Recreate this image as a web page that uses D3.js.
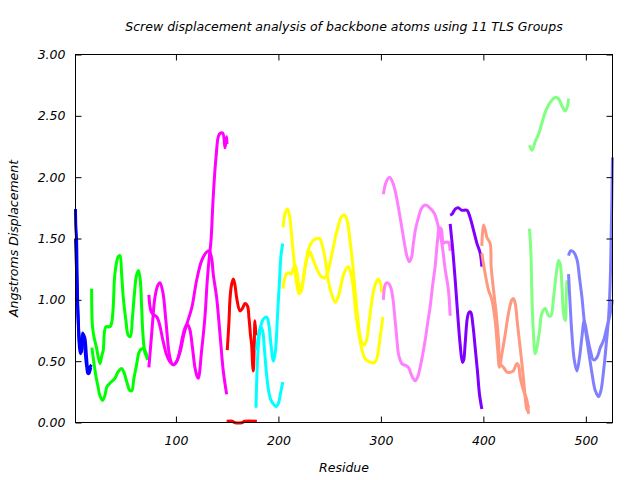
<!DOCTYPE html>
<html>
<head>
<meta charset="utf-8">
<script src="https://d3js.org/d3.v7.min.js"></script>
<style>
  html, body { margin: 0; padding: 0; background: #fff; }
  svg { display: block; }
  text { font-family: "DejaVu Sans", sans-serif; font-style: italic; font-size: 12.5px; fill: #000; }
</style>
</head>
<body>
<svg id="chart" width="640" height="480"></svg>
<script>
// ---------- data (residue, screw displacement in Å) ----------
const chartTitle = "Screw displacement analysis of backbone atoms using 11 TLS Groups";
const xLabel = "Residue";
const yLabel = "Angstroms Displacement";
const xTicks = [100, 200, 300, 400, 500];
const yTicks = [0, 0.5, 1.0, 1.5, 2.0, 2.5, 3.0];
const xDomain = [2, 526];
const yDomain = [0, 3];

// Group 1 (blue)
const g1a = [[2,1.74],[2.3,1.6],[3,1.5],[3.6,1.19],[4.6,0.86],[6.4,0.61],[7.9,0.57],[9.5,0.72],[11.1,0.69],[12.8,0.53],[14.4,0.41],[16.0,0.45],[17.7,0.47]];
const g1b = [[2,1.5],[3,1.25],[4,0.95],[5,0.75],[6,0.6],[7,0.56],[8,0.65],[9,0.73],[10,0.7],[11,0.62],[12,0.52],[13,0.45],[14,0.4],[15,0.4],[16,0.42],[17,0.45]];
// Group 2 (green)
const g2a = [[17.7,1.09],[18.6,0.78],[20.5,0.68],[22.5,0.61],[25.8,0.48],[27.5,0.54],[29.1,0.59],[31.6,0.78],[35.5,0.78],[37.2,0.81],[38.8,0.94],[40.4,1.21],[43.6,1.35],[45.3,1.36],[47,1.21],[48.6,1.02],[51.2,0.83],[53.5,0.71],[55.5,0.70],[57.5,0.85],[59.5,1.05],[61.5,1.20],[63.5,1.24],[65.3,1.15],[66.5,0.95],[67.8,0.72],[69.7,0.57],[71.2,0.54],[72.7,0.51]];
const g2b = [[18.0,0.61],[19.9,0.49],[21.9,0.38],[23.8,0.30],[25.8,0.22],[28.4,0.18],[30.7,0.22],[32.6,0.29],[35.5,0.32],[40.4,0.36],[43.4,0.41],[47.0,0.44],[49.2,0.41],[52.1,0.33],[55.1,0.26],[57.0,0.26],[59.0,0.36],[61.6,0.47],[63.9,0.57],[66.5,0.60],[68.8,0.60],[70.7,0.57],[72.2,0.51]];
// Group 3 (magenta)
const g3a = [[73.6,1.04],[75.6,0.91],[78,0.88],[81.4,0.86],[84,0.80],[87.3,0.67],[91,0.55],[94.5,0.49],[98,0.47],[101,0.50],[103.9,0.59],[106.5,0.70],[108.8,0.77],[111,0.80],[113.5,0.76],[116,0.62],[118.5,0.45],[120.5,0.38],[121.8,0.36],[125.1,0.59],[128.3,0.86],[130.6,1.16],[132.7,1.36],[134.2,1.48],[136.4,1.84],[139.1,2.16],[142.3,2.35],[145.6,2.36],[147.9,2.24],[149.5,2.33],[149.8,2.27]];
const g3b = [[73.6,0.45],[76.6,0.75],[79.5,1.02],[82.4,1.12],[84.4,1.14],[87.3,1.06],[90.2,0.83],[94.1,0.53],[97.1,0.47],[100,0.49],[103.9,0.57],[107.8,0.72],[111.7,0.83],[115.6,0.94],[120.2,1.16],[125.1,1.32],[130,1.39],[132.5,1.40],[135,1.33],[136.4,1.21],[139.7,1.02],[143,0.72],[146.2,0.42],[149.5,0.23]];
// Group 4 (red)
const g4a = [[150.1,0.59],[151.8,0.83],[152.7,1.00],[154.2,1.12],[156.0,1.17],[157.6,1.12],[159.6,1.00],[162.5,0.91],[164.9,0.93],[167.4,0.97],[169.8,0.95],[171.3,0.85],[172.8,0.71],[173.9,0.63],[174.9,0.46],[175.5,0.42],[176.4,0.63],[177.1,0.83],[178.1,0.71]];
const g4b = [[149.5,0.01],[155,0.01],[157,0.0],[165,0.0],[167,0.01],[179,0.01]];
// Group 5 (cyan)
const g5a = [[178.1,0.12],[180.1,0.59],[182.0,0.75],[184.0,0.82],[186.0,0.85],[188.6,0.86],[190.8,0.79],[192.8,0.63],[195.2,0.50],[197.2,0.59],[199.1,0.87],[201.1,1.16],[202.5,1.36],[204.2,1.46]];
const g5b = [[178.8,0.59],[180.6,0.71],[182.5,0.78],[184.5,0.75],[186.4,0.59],[188.6,0.38],[190.8,0.24],[192.8,0.18],[195.2,0.15],[197.7,0.13],[200.1,0.16],[202.1,0.24],[204.2,0.33]];
// Group 6 (yellow)
const g6a = [[204.5,1.59],[206.4,1.70],[208.7,1.74],[210.8,1.69],[212.6,1.55],[214.3,1.40],[215.7,1.28],[217.7,1.14],[220.1,1.05],[222.1,1.07],[224.0,1.16],[226.0,1.27],[228.4,1.35],[230.9,1.39],[232.8,1.35],[235.7,1.29],[238.7,1.23],[241.6,1.19],[245.2,1.18],[247.9,1.22],[251.4,1.34],[255.3,1.50],[258.7,1.61],[261.6,1.68],[264.7,1.69],[267.5,1.63],[269.9,1.48],[272.4,1.30],[274.8,1.08],[277.7,0.83],[280.7,0.67],[283.6,0.63],[286.0,0.67],[288.5,0.82],[291.4,1.00],[294.3,1.12],[297.3,1.17],[299.7,1.13],[300.7,1.06]];
const g6b = [[204.5,1.09],[207.7,1.21],[210.4,1.22],[212.6,1.21],[214.7,1.26],[216.5,1.28],[218.2,1.22],[219.6,1.13],[221.6,1.06],[223.5,1.12],[226.0,1.26],[228.9,1.40],[231.8,1.46],[234.8,1.49],[237.7,1.50],[240.3,1.50],[242.6,1.45],[245.5,1.34],[248.4,1.17],[251.4,1.06],[255.6,0.98],[258.2,1.02],[261.1,1.12],[264.1,1.22],[268.0,1.27],[270.9,1.21],[273.3,1.08],[275.8,0.87],[278.7,0.71],[281.6,0.59],[284.5,0.52],[287.5,0.50],[290.4,0.49],[294.0,0.49],[296.3,0.53],[298.2,0.63],[300.2,0.75],[301.9,0.86]];
// Group 7 (pink)
const g7a = [[302.4,1.86],[305.1,1.96],[308.3,2.00],[310.9,1.97],[313.9,1.89],[316.3,1.79],[318.8,1.67],[321.2,1.55],[323.6,1.43],[325.6,1.35],[327.8,1.31],[330.0,1.35],[331.7,1.46],[333.9,1.58],[336.6,1.67],[339.3,1.74],[342.2,1.77],[344.8,1.77],[347.6,1.75],[350.0,1.73],[352.9,1.69],[356.2,1.59],[359.5,1.46],[362.7,1.25],[365.9,1.08],[367.6,0.87]];
const g7b = [[302.4,1.00],[304.1,1.12],[305.8,1.14],[308.0,1.13],[310.0,1.09],[311.9,1.00],[313.9,0.83],[315.5,0.69],[317.1,0.56],[318.8,0.51],[320.4,0.48],[322.7,0.47],[325.3,0.46],[327.5,0.44],[329.2,0.40],[331.4,0.36],[333.4,0.34],[335.8,0.37],[338.3,0.45],[340.7,0.55],[343.2,0.67],[345.6,0.81],[348.0,0.94],[350.5,1.12],[352.9,1.27],[355.2,1.48],[357.1,1.59],[358.8,1.58],[361.0,1.46],[362.7,1.47],[364.4,1.47],[365.9,1.47],[367.6,1.40]];
// Group 8 (purple)
const g8a = [[367.6,1.69],[369.5,1.70],[372.5,1.74],[375.4,1.75],[379.0,1.73],[383.9,1.73],[387.1,1.67],[390.3,1.57],[393.7,1.46],[396.9,1.38],[398.5,1.27]];
const g8b = [[367.6,1.62],[368.8,1.52],[370.2,1.40],[372.5,1.16],[374.7,0.91],[377.3,0.64],[379.6,0.49],[380.8,0.51],[382.2,0.64],[384.5,0.86],[386.1,0.90],[387.6,0.90],[389.7,0.80],[392.0,0.61],[394.2,0.42],[396.2,0.23],[398.5,0.11]];
// Group 9 (salmon)
const g9a = [[398.5,1.44],[400.1,1.61],[401.8,1.57],[403.4,1.51],[406.6,1.46],[407.6,1.27],[409.9,1.08],[412.5,0.89],[414.8,0.67],[416.4,0.48],[419.6,0.45],[423.0,0.41],[426.2,0.41],[429.1,0.42],[432.7,0.48],[434.5,0.46],[435.9,0.37],[439.2,0.26],[442.5,0.18],[444.0,0.07]];
const g9b = [[398.5,1.38],[401.8,1.21],[405.0,1.08],[408.3,1.00],[411.5,0.83],[413.8,0.61],[415.7,0.45],[418.1,0.56],[421.3,0.72],[424.5,0.89],[427.8,1.00],[429.4,1.01],[431.1,0.97],[433.3,0.80],[435.9,0.61],[438.6,0.40],[440.8,0.21],[442.5,0.10],[444.0,0.14]];
// Group 10 (light green)
const g10a = [[445.0,2.26],[447.4,2.22],[450.6,2.29],[453.8,2.35],[457.1,2.44],[460.4,2.53],[465.2,2.61],[470.1,2.65],[473.3,2.64],[476.7,2.58],[479.9,2.54],[482.1,2.58],[483.1,2.64]];
const g10b = [[445.0,1.58],[446.4,1.38],[447.4,1.02],[448.9,0.72],[450.6,0.56],[452.2,0.61],[454.8,0.75],[457.1,0.89],[460.4,0.93],[463.6,0.87],[465.9,0.87],[468.5,1.02],[471.1,1.21],[473.3,1.32],[475.0,1.29],[476.7,1.10],[478.2,0.89],[479.9,0.83],[480.9,1.02],[481.5,1.16]];
// Group 11 (periwinkle)
const g11a = [[483.1,1.36],[485.4,1.40],[488.0,1.39],[491.3,1.33],[493.8,1.18],[496.2,1.02],[498.4,0.83],[501.1,0.67],[503.6,0.53],[506.0,0.40],[509.2,0.26],[512.4,0.21],[514.7,0.26],[517.3,0.42],[519.9,0.64],[522.2,0.86],[523.8,1.16],[524.8,1.57],[526.0,2.16]];
const g11b = [[483.1,1.21],[484.8,0.94],[486.4,0.72],[488.7,0.51],[491.3,0.42],[493.8,0.53],[496.2,0.70],[498.4,0.83],[501.1,0.72],[504.3,0.59],[507.5,0.51],[510.8,0.53],[514.1,0.61],[517.3,0.67],[520.6,0.78],[523.1,0.86],[526.0,1.00]];

const groupLines = [
  [g1a, g1b], [g2a, g2b], [g3a, g3b], [g4a, g4b], [g5a, g5b], [g6a, g6b],
  [g7a, g7b], [g8a, g8b], [g9a, g9b], [g10a, g10b], [g11a, g11b]
];

// ---------- styles ----------
const groupColors = ["#0000ff", "#00ff00", "#ff00ff", "#ff0000", "#00ffff", "#ffff00",
                     "#ff80ff", "#8000ff", "#ff9980", "#80ff80", "#8080ff"];

// ---------- drawing ----------
const svg = d3.select("#chart");
const plot = { left: 75.5, right: 612.5, top: 54.5, bottom: 422.5 };

const x = d3.scaleLinear().domain(xDomain).range([plot.left, plot.right]);
const y = d3.scaleLinear().domain(yDomain).range([plot.bottom, plot.top]);

const line = d3.line()
  .x(d => x(d[0]))
  .y(d => y(d[1]))
  .curve(d3.curveCatmullRom.alpha(0.5));

const seriesG = svg.append("g");
groupLines.forEach((lines, i) => {
  lines.forEach(pts => {
    seriesG.append("path")
      .datum(pts)
      .attr("d", line)
      .attr("fill", "none")
      .attr("stroke", groupColors[i])
      .attr("stroke-width", 3)
      .attr("stroke-linejoin", "round")
      .attr("stroke-linecap", "butt");
  });
});

// Axes (ticks inward, mirrored)
const tickLen = 6;
const xAxisB = d3.axisBottom(x).tickValues(xTicks).tickSize(-tickLen).tickPadding(14).tickFormat(d3.format("d"));
const xAxisT = d3.axisTop(x).tickValues(xTicks).tickSize(-tickLen).tickFormat("");
const yAxisL = d3.axisLeft(y).tickValues(yTicks).tickSize(-tickLen).tickPadding(10).tickFormat(d3.format(".2f"));
const yAxisR = d3.axisRight(y).tickValues(yTicks).tickSize(-tickLen).tickFormat("");

function styleAxis(g) {
  g.select(".domain").remove();
  g.selectAll(".tick line").attr("stroke", "#000").attr("stroke-width", 1);
  g.selectAll("text").attr("font-family", "DejaVu Sans, sans-serif").attr("font-style", "italic").attr("font-size", 12.5).attr("fill", "#000");
}

svg.append("g").attr("transform", `translate(0,${plot.bottom})`).call(xAxisB).call(styleAxis);
svg.append("g").attr("transform", `translate(0,${plot.top})`).call(xAxisT).call(styleAxis);
svg.append("g").attr("transform", `translate(${plot.left},0)`).call(yAxisL).call(styleAxis);
svg.append("g").attr("transform", `translate(${plot.right},0)`).call(yAxisR).call(styleAxis);

svg.append("rect")
  .attr("x", plot.left).attr("y", plot.top)
  .attr("width", plot.right - plot.left).attr("height", plot.bottom - plot.top)
  .attr("fill", "none").attr("stroke", "#000").attr("stroke-width", 1);

// Title and labels
svg.append("text")
  .attr("x", (plot.left + plot.right) / 2).attr("y", 31)
  .attr("text-anchor", "middle")
  .attr("font-size", 12.8)
  .text(chartTitle);

svg.append("text")
  .attr("x", (plot.left + plot.right) / 2).attr("y", 472)
  .attr("text-anchor", "middle")
  .text(xLabel);

svg.append("text")
  .attr("transform", `translate(18,${(plot.top + plot.bottom) / 2}) rotate(-90)`)
  .attr("text-anchor", "middle")
  .text(yLabel);
</script>
</body>
</html>
